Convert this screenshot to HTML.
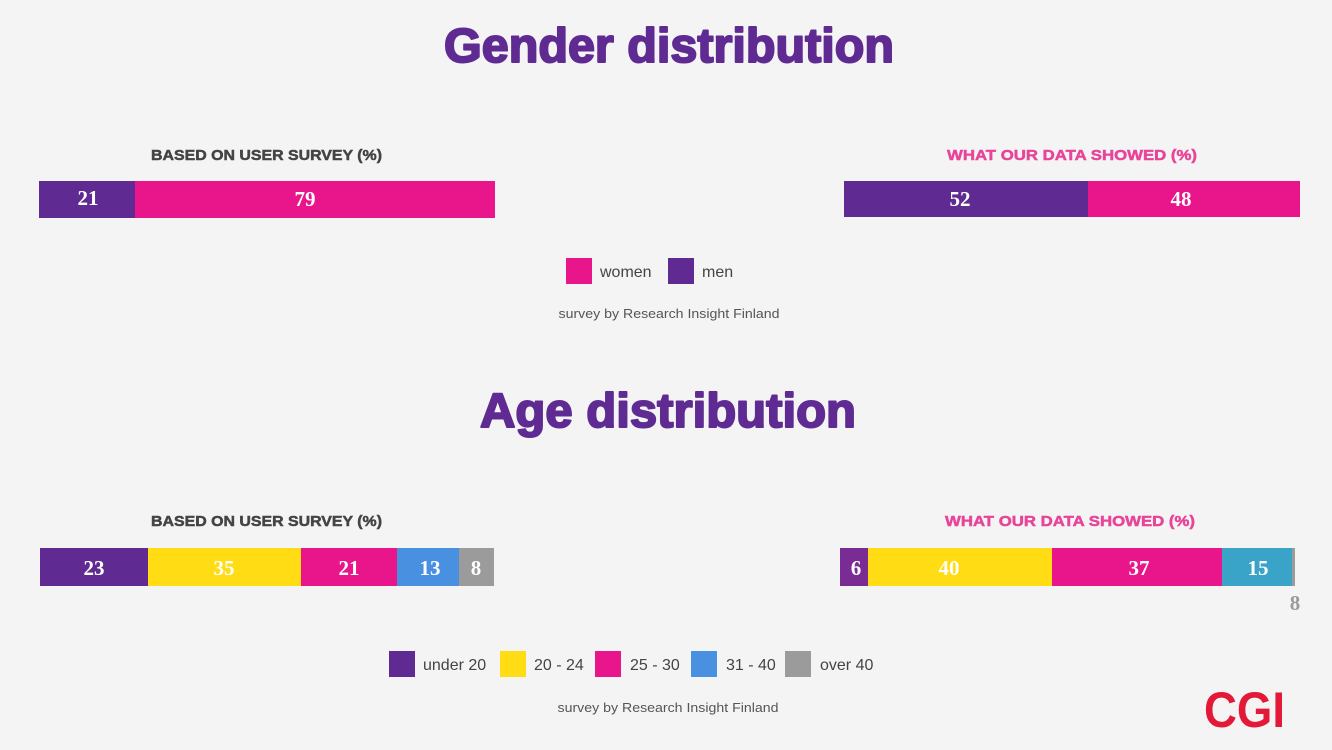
<!DOCTYPE html>
<html><head><meta charset="utf-8"><style>
html,body{margin:0;padding:0;background:#f4f4f4;}
svg{display:block;}
.t{font-family:"Liberation Sans",sans-serif;font-weight:bold;fill:#5f2b92;stroke:#5f2b92;stroke-width:2;stroke-linejoin:round;}
.h{font-family:"Liberation Sans",sans-serif;font-weight:bold;font-size:15px;stroke-width:0.5;}
.n{font-family:"Liberation Serif",serif;font-weight:bold;font-size:21px;fill:#fff;}
.l{font-family:"Liberation Sans",sans-serif;font-size:16px;fill:#444;}
.s{font-family:"Liberation Sans",sans-serif;font-size:13px;fill:#555;}
</style></head><body>
<svg width="1332" height="750" viewBox="0 0 1332 750" xmlns="http://www.w3.org/2000/svg">
<rect width="1332" height="750" fill="#f4f4f4"/>
<text class="t" x="444" y="62" font-size="48" textLength="450" lengthAdjust="spacingAndGlyphs">Gender distribution</text>
<text class="h" x="151" y="160" fill="#444" stroke="#444" textLength="231" lengthAdjust="spacingAndGlyphs">BASED ON USER SURVEY (%)</text>
<text class="h" x="947" y="160" fill="#e8449a" stroke="#e8449a" textLength="250" lengthAdjust="spacingAndGlyphs">WHAT OUR DATA SHOWED (%)</text>
<rect x="39" y="181" width="96" height="37" fill="#5f2b92"/>
<rect x="135" y="181" width="360" height="37" fill="#e8168a"/>
<text class="n" x="88" y="205" text-anchor="middle">21</text>
<text class="n" x="305" y="206" text-anchor="middle">79</text>
<rect x="844" y="181" width="244" height="36" fill="#5f2b92"/>
<rect x="1088" y="181" width="212" height="36" fill="#e8168a"/>
<text class="n" x="960" y="206" text-anchor="middle">52</text>
<text class="n" x="1181" y="206" text-anchor="middle">48</text>
<rect x="566" y="258" width="26" height="26" fill="#e8168a"/>
<text class="l" x="600" y="277">women</text>
<rect x="668" y="258" width="26" height="26" fill="#5f2b92"/>
<text class="l" x="702" y="277">men</text>
<text class="s" x="669" y="318" text-anchor="middle" textLength="221" lengthAdjust="spacingAndGlyphs">survey by Research Insight Finland</text>

<text class="t" x="480" y="427" font-size="48" textLength="376" lengthAdjust="spacingAndGlyphs">Age distribution</text>
<text class="h" x="151" y="526" fill="#444" stroke="#444" textLength="231" lengthAdjust="spacingAndGlyphs">BASED ON USER SURVEY (%)</text>
<text class="h" x="945" y="526" fill="#e8449a" stroke="#e8449a" textLength="250" lengthAdjust="spacingAndGlyphs">WHAT OUR DATA SHOWED (%)</text>
<rect x="40" y="548" width="108" height="38" fill="#5f2b92"/>
<rect x="148" y="548" width="153" height="38" fill="#ffdc14"/>
<rect x="301" y="548" width="96" height="38" fill="#e8168a"/>
<rect x="397" y="548" width="62" height="38" fill="#4a90e0"/>
<rect x="459" y="548" width="35" height="38" fill="#9b9b9b"/>
<text class="n" x="94" y="575" text-anchor="middle">23</text>
<text class="n" x="224" y="575" text-anchor="middle">35</text>
<text class="n" x="349" y="575" text-anchor="middle">21</text>
<text class="n" x="430" y="575" text-anchor="middle">13</text>
<text class="n" x="476" y="575" text-anchor="middle">8</text>
<rect x="840" y="548" width="28" height="38" fill="#7a2c95"/>
<rect x="868" y="548" width="184" height="38" fill="#ffdc14"/>
<rect x="1052" y="548" width="170" height="38" fill="#e8168a"/>
<rect x="1222" y="548" width="70" height="38" fill="#3aa3c8"/>
<rect x="1292" y="548" width="3" height="38" fill="#9b9b9b"/>
<text class="n" x="856" y="575" text-anchor="middle">6</text>
<text class="n" x="949" y="575" text-anchor="middle">40</text>
<text class="n" x="1139" y="575" text-anchor="middle">37</text>
<text class="n" x="1258" y="575" text-anchor="middle">15</text>
<text class="n" x="1295" y="610" text-anchor="middle" style="fill:#9b9b9b">8</text>
<rect x="389" y="651" width="26" height="26" fill="#5f2b92"/>
<text class="l" x="423" y="670">under 20</text>
<rect x="500" y="651" width="26" height="26" fill="#ffdc14"/>
<text class="l" x="534" y="670">20 - 24</text>
<rect x="595" y="651" width="26" height="26" fill="#e8168a"/>
<text class="l" x="630" y="670">25 - 30</text>
<rect x="691" y="651" width="26" height="26" fill="#4a90e0"/>
<text class="l" x="726" y="670">31 - 40</text>
<rect x="785" y="651" width="26" height="26" fill="#9b9b9b"/>
<text class="l" x="820" y="670">over 40</text>
<text class="s" x="668" y="712" text-anchor="middle" textLength="221" lengthAdjust="spacingAndGlyphs">survey by Research Insight Finland</text>
<text x="1204" y="727" font-family="Liberation Sans,sans-serif" font-weight="bold" font-size="50" fill="#e31937" textLength="81" lengthAdjust="spacingAndGlyphs">CGI</text>
</svg>
</body></html>
